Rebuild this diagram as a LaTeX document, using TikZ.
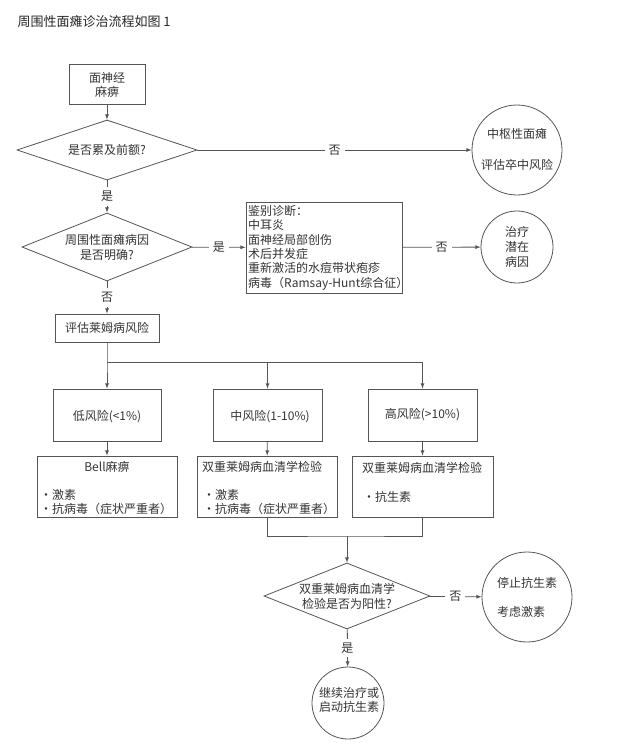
\documentclass[tikz,border=0pt]{standalone}
\usepackage{fontspec}
\setmainfont{Noto Sans CJK SC}
\usetikzlibrary{shapes.geometric}
\definecolor{linegray}{HTML}{555555}
\definecolor{txtgray}{HTML}{333333}
\newcommand{\flowfont}{\fontsize{12}{14.4}\selectfont}
\tikzset{
  box/.style={rectangle, draw=linegray, line width=0.8pt, inner sep=0pt},
  decision/.style={diamond, draw=linegray, line width=0.8pt, inner sep=0pt},
  endpt/.style={circle, draw=linegray, line width=0.8pt, inner sep=0pt},
  flow/.style={->, draw=linegray, line width=0.8pt},
  link/.style={draw=linegray, line width=0.8pt},
  lbl/.style={fill=white, inner sep=4pt, text=txtgray},
  txt/.style={text=txtgray, inner sep=0pt}
}

\begin{document}
\begin{tikzpicture}[>=latex, x=1pt, y=-1pt, font=\flowfont]
  \useasboundingbox (0,0) rectangle (618,756);

  \node[anchor=west, text=black!85, font=\fontsize{13}{15}\selectfont] (title) at (14,22) {周围性面瘫诊治流程如图 1};

  % upper part
  \node[box, minimum width=76, minimum height=40] (start) at (107,84) {};
      \node[txt, align=center] (start_t) at (107,85) {面神经\\麻痹};

  \node[decision, minimum width=180, minimum height=60] (d1) at (107,150) {};
      \node[txt] (d1_t) at (107,150) {是否累及前额?};

  \node[endpt, minimum size=90] (c1) at (517,150) {};
      \node[txt] (c1_a) at (517,134) {中枢性面瘫};
      \node[txt] (c1_b) at (517,165) {评估卒中风险};

  \node[decision, minimum width=170, minimum height=68] (d2) at (107,247) {};
      \node[txt, align=center] (d2_t) at (107,247.5) {周围性面瘫病因\\是否明确?};

  \node[box, minimum width=156, minimum height=91] (ddx) at (324,247.5) {};
      \node[txt, anchor=north west, align=left] (ddx_t) at (248,205) {鉴别诊断：\\中耳炎\\面神经局部创伤\\术后并发症\\重新激活的水痘带状疱疹\\病毒（Ramsay-Hunt综合征）};

  \node[endpt, minimum size=72] (c2) at (517,247) {};
      \node[txt, align=center, font=\fontsize{12}{15}\selectfont] (c2_t) at (517,247) {治疗\\潜在\\病因};

  \node[box, minimum width=104, minimum height=28] (lyme) at (107,328) {};
      \node[txt] (lyme_t) at (107,328) {评估莱姆病风险};

  \draw[flow] (start) -- (d1);
  \draw[flow] (d1) -- node[lbl] (no1) {否} (c1);
  \draw[flow] (d1) -- node[lbl] (yes1) {是} (d2);
  \draw[flow] (d2) -- node[lbl] (yes2) {是} (ddx);
  \draw[flow] (ddx) -- node[lbl] (no2) {否} (c2);
  \draw[flow] (d2) -- node[lbl] (no3) {否} (lyme);

  % risk levels
  \coordinate (split) at (107,362);
  \node[box, minimum width=108, minimum height=52] (low) at (107,415) {};
      \node[txt] (low_t) at (107,417) {低风险(<1\%)};
  \node[box, minimum width=109, minimum height=52] (mid) at (267.5,415) {};
      \node[txt] (mid_t) at (270,417) {中风险(1-10\%)};
  \node[box, minimum width=109, minimum height=52] (high) at (422.5,415) {};
      \node[txt] (high_t) at (422.5,415) {高风险(>10\%)};

  \draw[flow] (lyme) -- (split) -- (low);
  \draw[flow] (split) -| (mid);
  \draw[flow] (split) -| (high);

  % treatment
  \node[box, minimum width=140, minimum height=61] (tlow) at (107,486.5) {};
      \node[txt] (tlow_a) at (107,467) {Bell麻痹};
      \node[txt, anchor=west] (tlow_b) at (40,495) {•激素};
      \node[txt, anchor=west] (tlow_c) at (40,509) {•抗病毒（症状严重者）};
  \node[box, minimum width=140, minimum height=61] (tmid) at (267,486.5) {};
      \node[txt, anchor=west] (tmid_a) at (202,467) {双重莱姆病血清学检验};
      \node[txt, anchor=west] (tmid_b) at (203,495) {•激素};
      \node[txt, anchor=west] (tmid_c) at (203,509) {•抗病毒（症状严重者）};
  \node[box, minimum width=141, minimum height=61] (thigh) at (422.5,486.5) {};
      \node[txt, anchor=west] (thigh_a) at (362,468) {双重莱姆病血清学检验};
      \node[txt, anchor=west] (thigh_b) at (363,497) {•抗生素};

  \draw[flow] (low) -- (tlow);
  \draw[flow] (mid) -- (tmid);
  \draw[flow] (high) -- (thigh);

  % serology
  \coordinate (join) at (347,536);
  \node[decision, minimum width=166, minimum height=66] (d3) at (347,596) {};
      \node[txt, align=center] (d3_t) at (347,596.5) {双重莱姆病血清学\\检验是否为阳性?};
  \node[endpt, minimum size=72] (c3) at (348,703) {};
      \node[txt, align=center, font=\fontsize{12}{14}\selectfont] (c3_t) at (349,700) {继续治疗或\\启动抗生素};
  \node[endpt, minimum size=90] (c4) at (527,597) {};
      \node[txt, anchor=west] (c4_a) at (497,583) {停止抗生素};
      \node[txt, anchor=west] (c4_b) at (497,612) {考虑激素};

  \draw[link] (tmid) |- (join) -| (thigh);
  \draw[flow] (join) -- (d3);
  \draw[flow] (d3) -- node[lbl] (yes3) {是} (c3);
  \draw[flow] (d3) -- node[lbl] (no4) {否} (c4);
\end{tikzpicture}
\end{document}
